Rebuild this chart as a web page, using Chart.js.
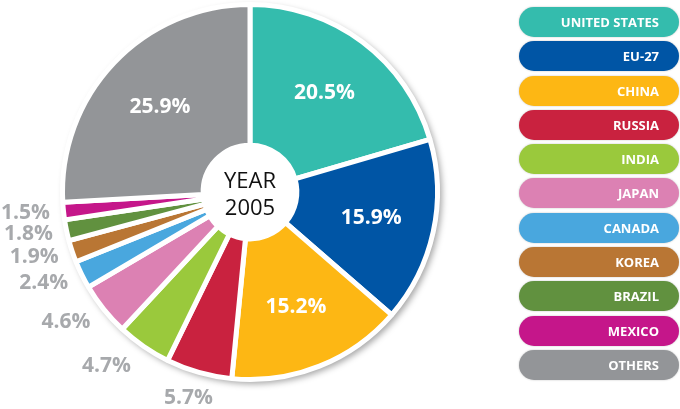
<!DOCTYPE html>
<html>
<head>
<meta charset="utf-8">
<script src="https://cdn.jsdelivr.net/npm/chart.js@4"></script>
<style>
  body { margin: 0; background: #fff; }
  #wrap { position: relative; width: 680px; height: 409px; }
  #legend { position: absolute; left: 519px; top: 7px; width: 160px; }
  .pill {
    height: 30px; margin-bottom: 4.3px; border-radius: 15px;
    color: #fff; font: bold 13px "Open Sans", sans-serif;
    text-align: right; line-height: 30px; padding-right: 20px;
    box-sizing: border-box; box-shadow: 0 0 2px rgba(0,0,0,0.25);
  }
</style>
</head>
<body>
<div id="wrap">
  <canvas id="pie" width="680" height="409"></canvas>
  <div id="legend"></div>
</div>
<script>
// shares in 2005 (%)
const countries = ['UNITED STATES', 'EU-27', 'CHINA', 'RUSSIA', 'INDIA', 'JAPAN', 'CANADA', 'KOREA', 'BRAZIL', 'MEXICO', 'OTHERS'];
const shares = [20.5, 15.9, 15.2, 5.7, 4.7, 4.6, 2.4, 1.9, 1.8, 1.5, 25.9];
const colors = ['#34bcad', '#0055a5', '#fdb714', '#c9223f', '#9ac93c', '#dc81b3', '#49a7de', '#b97634', '#61913f', '#c5168a', '#939598'];
const centerText = ['YEAR', '2005'];

// legend pills
const legend = document.getElementById('legend');
countries.forEach((c, i) => {
  const d = document.createElement('div');
  d.className = 'pill';
  d.style.background = colors[i];
  d.textContent = c;
  legend.appendChild(d);
});

// white ring with shadow behind the pie
const ringShadow = {
  id: 'ringShadow',
  beforeDatasetsDraw(chart) {
    const arc = chart.getDatasetMeta(0).data[0];
    const ctx = chart.ctx;
    ctx.save();
    ctx.shadowColor = 'rgba(0,0,0,0.35)';
    ctx.shadowBlur = 6;
    ctx.shadowOffsetX = 3;
    ctx.shadowOffsetY = 3;
    ctx.fillStyle = '#fff';
    ctx.beginPath();
    ctx.arc(arc.x, arc.y, arc.outerRadius + 1.5, 0, Math.PI * 2);
    ctx.fill();
    ctx.restore();
  }
};

// percentage labels + center text
const pctLabels = {
  id: 'pctLabels',
  afterDatasetsDraw(chart) {
    const ctx = chart.ctx;
    const arcs = chart.getDatasetMeta(0).data;
    ctx.save();
    ctx.textAlign = 'center';
    ctx.textBaseline = 'middle';
    ctx.font = 'bold 21px "Open Sans", sans-serif';
    arcs.forEach((a, i) => {
      let mid = (a.startAngle + a.endAngle) / 2;
      let r, color;
      if (shares[i] >= 10) {
        r = 124; color = '#fff';
      } else {
        r = a.outerRadius + 38;
        color = '#a7a9ac';
        // nudge outside labels on the left side toward the left
        if (mid > 2) mid = mid + 0.09 * (Math.PI - mid);
      }
      let x = a.x + r * Math.cos(mid);
      let y = Math.min(a.y + r * Math.sin(mid), chart.height - 11);
      ctx.fillStyle = color;
      ctx.fillText(shares[i].toFixed(1) + '%', x, y);
    });
    const a0 = arcs[0];
    ctx.fillStyle = '#111';
    ctx.font = '22px "Open Sans", sans-serif';
    ctx.fillText(centerText[0], a0.x, a0.y - 10);
    ctx.fillText(centerText[1], a0.x, a0.y + 17);
    ctx.restore();
  }
};

new Chart(document.getElementById('pie'), {
  type: 'doughnut',
  data: {
    labels: countries,
    datasets: [{
      data: shares,
      backgroundColor: colors,
      borderColor: '#fff',
      borderWidth: 5
    }]
  },
  options: {
    responsive: false,
    animation: false,
    cutout: '25%',
    layout: { padding: { left: 60, right: 240, top: 2, bottom: 27 } },
    plugins: {
      legend: { display: false },
      tooltip: { enabled: false }
    }
  },
  plugins: [ringShadow, pctLabels]
});
</script>
</body>
</html>
